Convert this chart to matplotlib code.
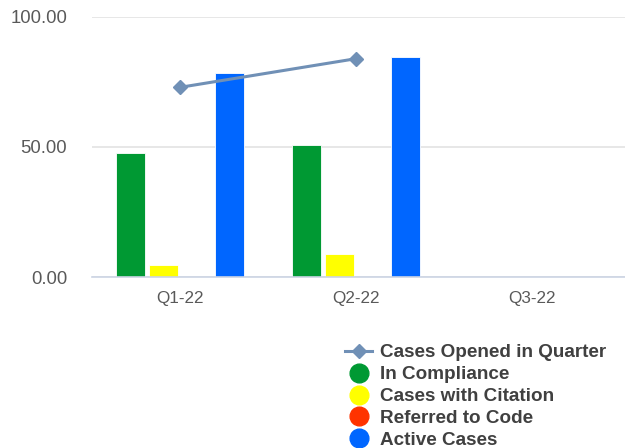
import numpy as np
import matplotlib
matplotlib.use("Agg")
import matplotlib.pyplot as plt
from matplotlib.lines import Line2D

plt.rcParams['font.family'] = ['Liberation Sans', 'DejaVu Sans']

quarters = ["Q1-22", "Q2-22", "Q3-22"]
in_compliance = [47.5, 50.5, 0]
with_citation = [4.5, 8.8, 0]
referred = [0, 0, 0]
active = [78.2, 84.3, 0]
opened = [72.8, 83.8, np.nan]

series = [
    ("In Compliance", in_compliance, "#009933"),
    ("Cases with Citation", with_citation, "#ffff00"),
    ("Referred to Code", referred, "#ff3300"),
    ("Active Cases", active, "#0066ff"),
]
line_color = "#7090b6"

fig = plt.figure(figsize=(6.25, 4.48), dpi=100)
ax = fig.add_axes([92 / 625, 1 - 277 / 448, 533 / 625, 260.5 / 448])

x = np.arange(len(quarters))
step, width = 0.187, 0.167
for i, (name, vals, col) in enumerate(series):
    ax.bar(x + (i - 1.5) * step, vals, width, color=col, edgecolor="white",
           linewidth=0.6, zorder=2)

ax.plot(x, opened, color=line_color, lw=2.2, marker="D", ms=7, zorder=3)

ax.set_xlim(-0.5, 2.53)
ax.set_ylim(0, 100)
ax.set_yticks([0, 50, 100])
ax.set_yticklabels(["0.00", "50.00", "100.00"])
ax.set_xticks(x)
ax.set_xticklabels(quarters)
ax.tick_params(axis="y", length=0, pad=18, labelsize=13.3, labelcolor="#595959")
ax.tick_params(axis="x", length=0, pad=10, labelsize=12.3, labelcolor="#595959")
ax.grid(axis="y", color="#e3e3e3", lw=1.2, zorder=0)
for s in ["top", "right", "left"]:
    ax.spines[s].set_visible(False)
ax.spines["bottom"].set_color("#ccd4e4")
ax.spines["bottom"].set_linewidth(1.2)

handles = [Line2D([], [], color=line_color, lw=2.2, marker="D", ms=7)]
labels = ["Cases Opened in Quarter"]
for name, vals, col in series:
    handles.append(Line2D([], [], ls="none", marker="o", ms=13.5, color=col))
    labels.append(name)

fig.legend(handles, labels, loc="upper left", bbox_to_anchor=(345 / 625, 1 - 344 / 448),
           frameon=False, prop={"weight": "bold", "size": 13.6}, labelcolor="#404040",
           handlelength=1.45, handletextpad=0.42, labelspacing=0.25, borderpad=0,
           borderaxespad=0)

fig.savefig("out.png", dpi=100)
